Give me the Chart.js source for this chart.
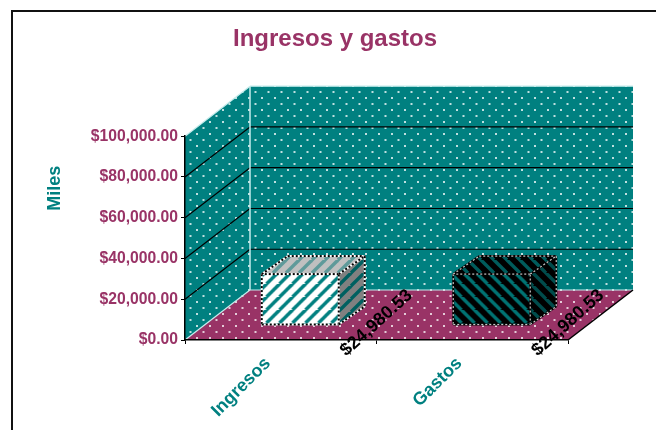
<!DOCTYPE html>
<html>
<head>
<meta charset="utf-8">
<script src="https://cdn.jsdelivr.net/npm/chart.js@4"></script>
<style>
body { margin: 0; background: #fff; }
</style>
</head>
<body>
<canvas id="chart" width="656" height="430"></canvas>
<script>
//Chart data
var categories = ['Ingresos', 'Gastos'];
var seriesValues = [24980.53, 24980.53];
var yTickLabels = ['$0.00', '$20,000.00', '$40,000.00', '$60,000.00', '$80,000.00', '$100,000.00'];

//Colors
var teal = '#008080';
var plum = '#993366';
var font = '"Liberation Sans", Arial, sans-serif';

//How far the walls and the boxes go back
var wallDepth = {x: 65, y: -50};
var barShift = {x: 19.5, y: -15};
var barDepth = {x: 26, y: -18};

//Tile with staggered dots for walls and floor
function dots(color){
    var c = document.createElement('canvas');
    c.width = 13;
    c.height = 12;
    var g = c.getContext('2d');
    g.fillStyle = color;
    g.fillRect(0, 0, 13, 12);
    g.fillStyle = 'rgba(255,255,255,0.75)';
    [[1, 1], [7.5, 7]].forEach(function(p){
        g.fillRect(p[0], p[1], 2, 2);
    });
    return g.createPattern(c, 'repeat');
}

//Tile with diagonal stripes, dir 1 is / and -1 is \
function stripes(bg, fg, dir){
    var size = 13;
    var c = document.createElement('canvas');
    c.width = size;
    c.height = size;
    var g = c.getContext('2d');
    g.fillStyle = bg;
    g.fillRect(0, 0, size, size);
    g.strokeStyle = fg;
    g.lineWidth = 3.4;
    for(var i = -size; i <= size * 2; i += size){
        g.beginPath();
        if(dir > 0){
            g.moveTo(i - size, size);
            g.lineTo(i + size, -size);
        }else{
            g.moveTo(i - size, -size);
            g.lineTo(i + size, size);
        }
        g.stroke();
    }
    return g.createPattern(c, 'repeat');
}

var frontFill = [stripes('#ffffff', teal, 1), stripes('#000000', '#007373', -1)];
var topFill = [stripes('#c0c0c0', '#5f9a9a', 1), stripes('#000000', '#005c5c', -1)];
var sideFill = [stripes('#808080', '#006060', 1), stripes('#000000', '#004c4c', -1)];
var edgeUnder = ['#ffffff', '#000000'];
var edgeDots = ['#000000', '#c8c8c8'];

function poly(ctx, pts, fill){
    ctx.beginPath();
    pts.forEach(function(p, i){
        if(i == 0) ctx.moveTo(p[0], p[1]);
        else ctx.lineTo(p[0], p[1]);
    });
    ctx.closePath();
    ctx.fillStyle = fill;
    ctx.fill();
}

function line(ctx, x1, y1, x2, y2, color, width){
    ctx.beginPath();
    ctx.moveTo(x1, y1);
    ctx.lineTo(x2, y2);
    ctx.strokeStyle = color;
    ctx.lineWidth = width;
    ctx.stroke();
}

var walls = {
    id: 'walls',
    //Frame, walls, floor and gridlines go under the axes
    beforeDraw: function(chart){
        var ctx = chart.ctx;
        var a = chart.chartArea;
        var yScale = chart.scales.y;
        var dx = wallDepth.x, dy = wallDepth.y;
        ctx.save();
        ctx.fillStyle = '#fff';
        ctx.fillRect(0, 0, chart.width, chart.height);
        line(ctx, 12, 11, 12, chart.height, '#111', 2);
        line(ctx, 11, 11, chart.width, 11, '#111', 2);

        var wallDots = dots(teal);
        poly(ctx, [[a.left, a.bottom], [a.left, a.top], [a.left + dx, a.top + dy], [a.left + dx, a.bottom + dy]], wallDots);
        poly(ctx, [[a.left + dx, a.top + dy], [a.right + dx, a.top + dy], [a.right + dx, a.bottom + dy], [a.left + dx, a.bottom + dy]], wallDots);
        poly(ctx, [[a.left, a.bottom], [a.left + dx, a.bottom + dy], [a.right + dx, a.bottom + dy], [a.right, a.bottom]], dots(plum));

        yScale.ticks.forEach(function(t){
            if(t.value == 0 || t.value == yScale.max) return;
            var py = yScale.getPixelForValue(t.value);
            line(ctx, a.left, py, a.left + dx, py + dy, '#000', 1.2);
            line(ctx, a.left + dx, py + dy, a.right + dx, py + dy, '#000', 1.2);
        });

        var light = '#c4ecec';
        line(ctx, a.left, a.top, a.left + dx, a.top + dy, light, 1.2);
        line(ctx, a.left + dx, a.top + dy, a.right + dx, a.top + dy, light, 1.2);
        line(ctx, a.left + dx, a.top + dy, a.left + dx, a.bottom + dy, light, 1.5);
        line(ctx, a.left, a.bottom, a.left + dx, a.bottom + dy, light, 1.2);
        line(ctx, a.left + dx, a.bottom + dy, a.right + dx, a.bottom + dy, light, 1.2);
        line(ctx, a.right, a.bottom, a.right + dx, a.bottom + dy, '#000', 1.5);

        //Axis title sits above the middle of the axis, next to the wall
        ctx.translate(a.left - 130, a.top + 52);
        ctx.rotate(-Math.PI / 2);
        ctx.font = 'bold 18px ' + font;
        ctx.fillStyle = teal;
        ctx.textAlign = 'center';
        ctx.textBaseline = 'middle';
        ctx.fillText('Miles', 0, 0);
        ctx.restore();
    },
    //Boxes stand back from the front edge of the floor
    beforeDatasetsDraw: function(chart){
        chart.ctx.save();
        chart.ctx.translate(barShift.x, barShift.y);
    },
    afterDatasetsDraw: function(chart){
        var ctx = chart.ctx;
        ctx.restore();
        var bars = chart.getDatasetMeta(0).data;
        var xScale = chart.scales.x;
        var stepWidth = xScale.width / categories.length;
        ctx.save();
        bars.forEach(function(bar, i){
            var p = bar.getProps(['x', 'y', 'base', 'width'], true);
            var l = p.x - p.width / 2 + barShift.x;
            var r = p.x + p.width / 2 + barShift.x;
            var t = p.y + barShift.y;
            var b = p.base + barShift.y;
            var dx = barDepth.x, dy = barDepth.y;
            var top = [[l, t], [l + dx, t + dy], [r + dx, t + dy], [r, t]];
            var side = [[r, t], [r + dx, t + dy], [r + dx, b + dy], [r, b]];
            poly(ctx, top, topFill[i]);
            poly(ctx, side, sideFill[i]);
            var edges = [[l, t, l, b], [l, b, r, b], [r, b, r, t], [r, t, l, t],
                [l, t, l + dx, t + dy], [l + dx, t + dy, r + dx, t + dy], [r, t, r + dx, t + dy],
                [r + dx, t + dy, r + dx, b + dy], [r, b, r + dx, b + dy]];
            edges.forEach(function(e){
                ctx.setLineDash([]);
                line(ctx, e[0], e[1], e[2], e[3], edgeUnder[i], 2);
                ctx.setLineDash([2, 2]);
                line(ctx, e[0], e[1], e[2], e[3], edgeDots[i], i == 0 ? 2 : 1.2);
            });
            ctx.setLineDash([]);
        });
        //Value labels lie across the right end of each category
        bars.forEach(function(bar, i){
            ctx.save();
            ctx.translate(bar.x + stepWidth / 2, chart.chartArea.bottom - 17);
            ctx.rotate(-42 * Math.PI / 180);
            ctx.font = 'bold 18px ' + font;
            ctx.fillStyle = '#000';
            ctx.textAlign = 'center';
            ctx.textBaseline = 'middle';
            ctx.fillText('$' + seriesValues[i].toLocaleString('en-US', {minimumFractionDigits: 2}), 0, 0);
            ctx.restore();
        });
        ctx.restore();
    }
};

var ctx = document.getElementById('chart').getContext('2d');
var chart = new Chart(ctx, {
    type: 'bar',
    plugins: [walls],
    data: {
        labels: categories,
        datasets: [{
            data: seriesValues,
            backgroundColor: frontFill,
            borderWidth: 0,
            barThickness: 77,
            categoryPercentage: 1,
            clip: false
        }]
    },
    options: {
        responsive: false,
        animation: false,
        layout: {padding: {left: 14, right: 0, top: 0, bottom: 0}},
        plugins: {
            legend: {display: false},
            tooltip: {enabled: false},
            title: {
                display: true,
                text: 'Ingresos y gastos',
                color: plum,
                font: {family: font, size: 24, weight: 'bold'},
                padding: {top: 25, bottom: 82.4}
            }
        },
        scales: {
            x: {
                afterFit: function(scale){ scale.height = 90; },
                border: {color: '#000', width: 1.5},
                grid: {drawOnChartArea: false, color: '#000', tickLength: 4},
                ticks: {
                    color: teal,
                    font: {family: font, size: 18, weight: 'bold'},
                    minRotation: 45,
                    maxRotation: 45,
                    padding: 9,
                    labelOffset: -13
                }
            },
            y: {
                min: 0,
                max: 100000,
                afterFit: function(scale){ scale.width = 171; },
                border: {color: '#000', width: 1.5},
                grid: {drawOnChartArea: false, color: '#000', tickLength: 4},
                ticks: {
                    stepSize: 20000,
                    color: plum,
                    padding: 3,
                    font: {family: font, size: 15.7, weight: 'bold'},
                    callback: function(value, index){ return yTickLabels[index]; }
                }
            },
            //Empty axis keeps the room for the depth on the right
            depthRoom: {
                position: 'right',
                afterFit: function(scale){ scale.width = 88; },
                border: {display: false},
                grid: {display: false},
                ticks: {display: false}
            }
        }
    }
});
</script>
</body>
</html>
